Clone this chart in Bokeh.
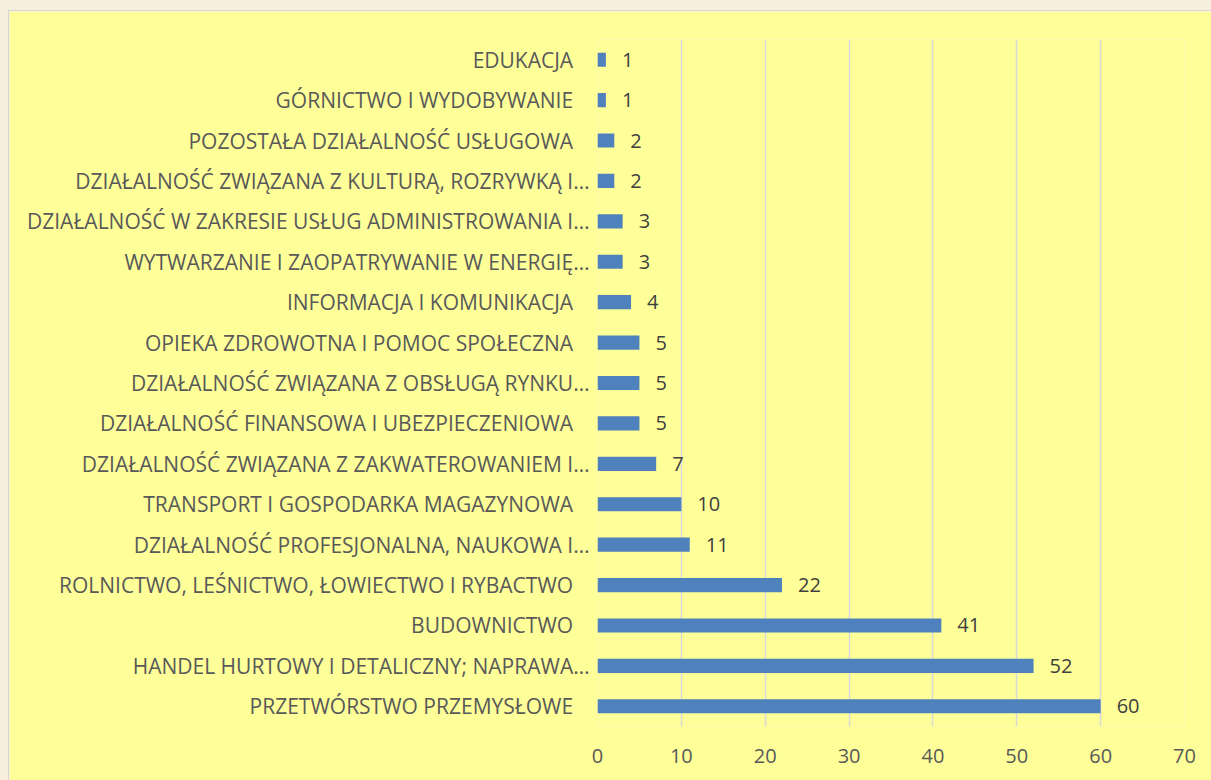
from bokeh.plotting import figure
from bokeh.models import ColumnDataSource, FactorRange, Range1d, FixedTicker
from bokeh.layouts import column
from bokeh.core.properties import value
from bokeh.embed import file_html
from bokeh.resources import INLINE

# Data (bottom to top)
categories = [
    "PRZETWÓRSTWO PRZEMYSŁOWE",
    "HANDEL HURTOWY I DETALICZNY; NAPRAWA…",
    "BUDOWNICTWO",
    "ROLNICTWO, LEŚNICTWO, ŁOWIECTWO I RYBACTWO",
    "DZIAŁALNOŚĆ PROFESJONALNA, NAUKOWA I…",
    "TRANSPORT I GOSPODARKA MAGAZYNOWA",
    "DZIAŁALNOŚĆ ZWIĄZANA Z ZAKWATEROWANIEM I…",
    "DZIAŁALNOŚĆ FINANSOWA I UBEZPIECZENIOWA",
    "DZIAŁALNOŚĆ ZWIĄZANA Z OBSŁUGĄ RYNKU…",
    "OPIEKA ZDROWOTNA I POMOC SPOŁECZNA",
    "INFORMACJA I KOMUNIKACJA",
    "WYTWARZANIE I ZAOPATRYWANIE W ENERGIĘ…",
    "DZIAŁALNOŚĆ W ZAKRESIE USŁUG ADMINISTROWANIA I…",
    "DZIAŁALNOŚĆ ZWIĄZANA Z KULTURĄ, ROZRYWKĄ I…",
    "POZOSTAŁA DZIAŁALNOŚĆ USŁUGOWA",
    "GÓRNICTWO I WYDOBYWANIE",
    "EDUKACJA",
]
counts = [60, 52, 41, 22, 11, 10, 7, 5, 5, 5, 4, 3, 3, 2, 2, 1, 1]
x_ticks = [0, 10, 20, 30, 40, 50, 60, 70]

FONT = "Open Sans"
BG = "#FFFF99"
PAGE = "#F7EEDC"

# non-truncated labels keep a wider gap to the bars (as in the original)
pad = "\u00a0\u00a0\u00a0\u200b"
factors = [c if c.endswith("…") else c + pad for c in categories]

source = ColumnDataSource(data=dict(
    cat=factors,
    val=counts,
    lbl=[str(v) for v in counts],
))

p = figure(
    width=1203, height=770,
    y_range=FactorRange(factors=factors),
    x_range=Range1d(0, 70),
    output_backend="svg", toolbar_location=None,
    min_border_left=588, min_border_right=28,
    min_border_top=28, min_border_bottom=55,
    margin=(10, 0, 0, 8),
    styles={"border-left": "1px solid #D6D6D6", "border-top": "1px solid #D6D6D6"},
)
p.background_fill_color = BG
p.border_fill_color = BG
p.outline_line_color = None

p.hbar(y="cat", left=0, right="val", height=0.35, source=source,
       fill_color="#4F81BD", line_color=None)

p.text(x="val", y="cat", text="lbl", source=source,
       x_offset=16, text_align="left", text_baseline="middle",
       text_font=value(FONT), text_font_size="20px", text_color="#404040")

# grid
p.ygrid.grid_line_color = None
p.xgrid.grid_line_color = "#D9D9D9"
p.xgrid.grid_line_width = 1.5
p.xgrid.ticker = FixedTicker(ticks=x_ticks)

# x axis
p.xaxis.ticker = FixedTicker(ticks=x_ticks)
p.xaxis.axis_line_color = None
p.xaxis.major_tick_line_color = None
p.xaxis.minor_tick_line_color = None
p.xaxis.major_tick_out = 0
p.xaxis.major_label_standoff = 22
p.xaxis.major_label_text_font = FONT
p.xaxis.major_label_text_font_size = "20px"
p.xaxis.major_label_text_color = "#595959"

# y axis
p.yaxis.axis_line_color = None
p.yaxis.major_tick_line_color = None
p.yaxis.minor_tick_line_color = None
p.yaxis.major_tick_out = 0
p.yaxis.major_label_standoff = 8
p.yaxis.major_label_text_font = FONT
p.yaxis.major_label_text_font_size = "21px"
p.yaxis.major_label_text_color = "#595959"

page = column(p, styles={"background-color": PAGE})

open("out.html", "w").write(file_html(page, INLINE))
